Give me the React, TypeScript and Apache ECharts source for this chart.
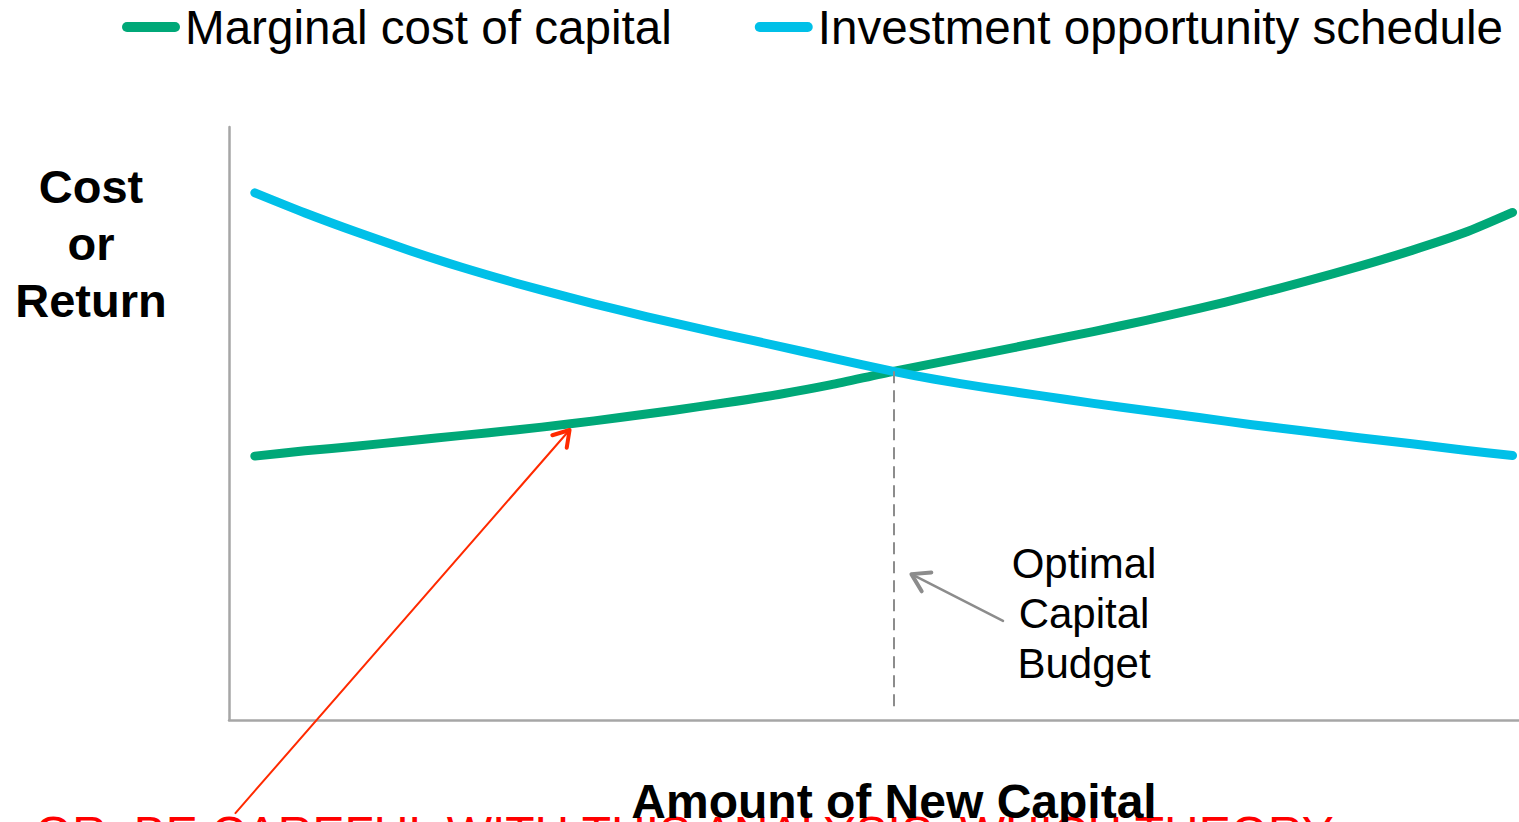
import React, { useEffect, useRef } from "react";
import * as echarts from "echarts";

// Marginal cost of capital (x = amount of new capital, y = cost/return), 0..100 scale
const mccX = [2.0, 5.9, 10.0, 14.0, 18.1, 22.2, 26.3, 30.3, 34.4, 38.5, 42.6, 46.6, 51.5, 58.8, 62.9, 67.0, 71.1, 75.2, 79.3, 83.5, 87.6, 91.7, 95.8, 99.5];
const mccY = [44.5, 45.4, 46.2, 47.1, 48.0, 48.9, 49.9, 51.0, 52.2, 53.5, 54.9, 56.5, 58.8, 61.9, 63.7, 65.5, 67.4, 69.4, 71.6, 74.0, 76.5, 79.2, 82.2, 85.6];

// Investment opportunity schedule
const iosX = [2.0, 5.9, 10.0, 14.1, 18.1, 22.2, 26.3, 30.3, 34.4, 38.5, 42.5, 46.6, 51.5, 54.6, 58.8, 62.9, 67.0, 71.1, 75.2, 79.3, 83.5, 87.6, 91.7, 95.8, 99.5];
const iosY = [88.9, 85.5, 82.2, 79.1, 76.3, 73.7, 71.3, 69.1, 67.0, 65.0, 63.1, 61.1, 58.8, 57.5, 56.0, 54.7, 53.4, 52.2, 51.0, 49.8, 48.7, 47.6, 46.6, 45.5, 44.6];

const seriesNames = ["Marginal cost of capital", "Investment opportunity schedule"];
const optimum = [51.5, 58.8];
const axisFloor = 1.3;

// annotation anchors in data units
const grayArrowTail = [60.0, 16.7];
const grayArrowTip = [52.9, 24.6];
const redArrowTail = [0.5, -15.7];
const redArrowTip = [26.4, 48.9];

const FONT = "'Liberation Sans', Arial, Helvetica, sans-serif";

function arrowHead(tip: number[], tail: number[], len: number, deg: number) {
  const ang = Math.atan2(tail[1] - tip[1], tail[0] - tip[0]);
  const a = (deg * Math.PI) / 180;
  return [
    [tip[0] + len * Math.cos(ang + a), tip[1] + len * Math.sin(ang + a)],
    [tip[0], tip[1]],
    [tip[0] + len * Math.cos(ang - a), tip[1] + len * Math.sin(ang - a)],
  ];
}

export default function App() {
  const ref = useRef<HTMLDivElement>(null);
  useEffect(() => {
    document.body.style.margin = "0";
    const chart = echarts.init(ref.current!, null, { renderer: "svg" });
    const option: any = {
      animation: false,
      backgroundColor: "#ffffff",
      legend: {
        left: 122,
        top: 3,
        width: 1450,
        padding: 0,
        itemWidth: 58,
        itemHeight: 10,
        itemGap: 83,
        icon: "path://M5,0 L53,0 A5,5 0 0 1 53,10 L5,10 A5,5 0 0 1 5,0 Z",
        textStyle: { fontSize: 47.6, fontFamily: FONT, color: "#000", lineHeight: 48 },
        data: seriesNames,
      },
      grid: { left: 229, right: 0, top: 127, bottom: 102 },
      xAxis: {
        type: "value",
        min: 0,
        max: 100,
        axisLine: { show: true, lineStyle: { color: "#a6a6a6", width: 2.5 } },
        axisTick: { show: false },
        axisLabel: { show: false },
        splitLine: { show: false },
      },
      yAxis: {
        type: "value",
        min: 0,
        max: 100,
        axisLine: { show: true, lineStyle: { color: "#a6a6a6", width: 2.5 } },
        axisTick: { show: false },
        axisLabel: { show: false },
        splitLine: { show: false },
      },
      series: [
        {
          name: seriesNames[0],
          type: "line",
          data: mccX.map((x, i) => [x, mccY[i]]),
          symbol: "none",
          smooth: 0.25,
          color: "#00a878",
          lineStyle: { width: 9, cap: "round", join: "round", color: "#00a878" },
          z: 3,
          markLine: {
            silent: true,
            symbol: ["none", "none"],
            label: { show: false },
            lineStyle: { color: "#8c8c8c", width: 2, type: [12, 7] },
            data: [[{ coord: [optimum[0], optimum[1]] }, { coord: [optimum[0], axisFloor] }]],
          },
        },
        {
          name: seriesNames[1],
          type: "line",
          data: iosX.map((x, i) => [x, iosY[i]]),
          symbol: "none",
          smooth: 0.25,
          color: "#00c0e8",
          lineStyle: { width: 9, cap: "round", join: "round", color: "#00c0e8" },
          z: 4,
        },
      ],
    };
    chart.setOption(option);

    const px = (p: number[]) => chart.convertToPixel({ gridIndex: 0 }, p) as number[];
    const gTail = px(grayArrowTail);
    const gTip = px(grayArrowTip);
    const rTail = px(redArrowTail);
    const rTip = px(redArrowTip);

    chart.setOption({
      graphic: [
        {
          type: "text",
          x: 91,
          y: 243,
          z: 10,
          style: {
            text: "Cost\nor\nReturn",
            fontSize: 47,
            fontWeight: "bold",
            fontFamily: FONT,
            fill: "#000",
            align: "center",
            verticalAlign: "middle",
            lineHeight: 57,
          },
        },
        {
          type: "text",
          x: 894,
          y: 801,
          z: 10,
          style: {
            text: "Amount of New Capital",
            fontSize: 48,
            fontWeight: "bold",
            fontFamily: FONT,
            fill: "#000",
            align: "center",
            verticalAlign: "middle",
          },
        },
        {
          type: "text",
          x: 1084,
          y: 613,
          z: 10,
          style: {
            text: "Optimal\nCapital\nBudget",
            fontSize: 42,
            fontFamily: FONT,
            fill: "#000",
            align: "center",
            verticalAlign: "middle",
            lineHeight: 50,
          },
        },
        {
          type: "text",
          x: 35,
          y: 833,
          z: 9,
          style: {
            text: "OR, BE CAREFUL WITH THIS ANALYSIS. WHICH THEORY",
            fontSize: 48,
            fontFamily: FONT,
            fill: "#ff0000",
            align: "left",
            verticalAlign: "middle",
          },
        },
        {
          type: "line",
          z: 10,
          shape: { x1: gTail[0], y1: gTail[1], x2: gTip[0], y2: gTip[1] },
          style: { stroke: "#8c8c8c", lineWidth: 2.5, lineCap: "round" },
        },
        {
          type: "polyline",
          z: 10,
          shape: { points: arrowHead(gTip, gTail, 20, 32) },
          style: { stroke: "#8c8c8c", lineWidth: 4, fill: null, lineCap: "round", lineJoin: "round" },
        },
        {
          type: "line",
          z: 11,
          shape: { x1: rTail[0], y1: rTail[1], x2: rTip[0], y2: rTip[1] },
          style: { stroke: "#ff2a00", lineWidth: 2, lineCap: "round" },
        },
        {
          type: "polyline",
          z: 11,
          shape: { points: arrowHead(rTip, rTail, 18, 32) },
          style: { stroke: "#ff2a00", lineWidth: 4, fill: null, lineCap: "round", lineJoin: "round" },
        },
      ],
    });

    return () => chart.dispose();
  }, []);
  return (
    <div
      ref={ref}
      style={{ position: "fixed", left: 0, top: 0, width: 1519, height: 822, background: "#fff" }}
    />
  );
}
